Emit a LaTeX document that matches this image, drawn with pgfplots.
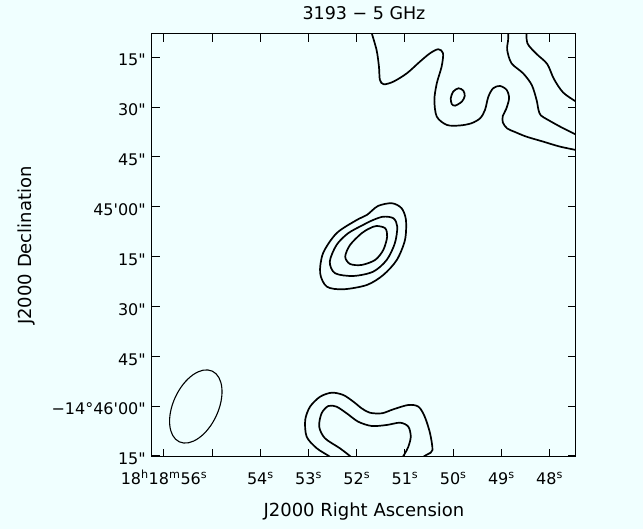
\documentclass[border=0pt]{standalone}
\usepackage{fontspec}
\setmainfont{DejaVu Sans}
\usepackage{pgfplots}
\pgfplotsset{compat=1.18}
\usetikzlibrary{shapes.geometric}
\definecolor{bgazure}{RGB}{240,255,255}
% straight prime marks (bypass the TeX quote mapping)
\newcommand\sq{\XeTeXglyph\XeTeXcharglyph"27\relax}
\newcommand\dq{\XeTeXglyph\XeTeXcharglyph"22\relax}
\newcommand\sx[1]{\textsuperscript{#1}}

\begin{document}
\begin{tikzpicture}
\fill[bgazure] (-152pt,-72pt) rectangle (491pt,457pt);
\begin{axis}[
  at={(0pt,0pt)}, anchor=south west,
  scale only axis, width=424pt, height=423pt,
  x dir=reverse,
  xmin=47.452, xmax=56.249,
  ymin=-75.3, ymax=52.0,
  axis line style={line width=1pt},
  tick style={line width=1pt, black},
  major tick length=8pt,
  tick align=inside,
  xtick={48,49,50,51,52,53,54,55,56},
  xticklabels={48\sx{s},49\sx{s},50\sx{s},51\sx{s},52\sx{s},53\sx{s},54\sx{s},{},18\sx{h}18\sx{m}56\sx{s}},
  ytick={-75,-60,-45,-30,-15,0,15,30,45},
  yticklabels={15\dq,−14°46\sq00\dq,45\dq,30\dq,15\dq,45\sq00\dq,45\dq,30\dq,15\dq},
  tick label style={font=\fontsize{16}{19}\selectfont},
  xticklabel style={anchor=base, inner sep=0pt, yshift=-28pt},
  yticklabel style={anchor=east, inner sep=0pt, xshift=-6pt, yshift=-3pt},
  title={\fontsize{17.5}{21}\selectfont 3193 − 5 GHz},
  title style={at={(axis description cs:0.5,1.0189)}, anchor=base, inner sep=0pt},
  xlabel={J2000 Right Ascension},
  xlabel style={font=\fontsize{18}{21}\selectfont, at={(axis description cs:0.5,-0.1395)}, anchor=base, inner sep=0pt},
  ylabel={J2000 Declination},
  ylabel style={font=\fontsize{18}{21}\selectfont, at={(axis description cs:-0.2837,0.5)}, anchor=base, inner sep=0pt},
  axis background/.style={fill=bgazure},
  every axis plot/.append style={black, line width=1.7pt},
]
% extended emission, north-west edge
\addplot[smooth] coordinates {
  (51.71,53.2) (51.59,47.20) (51.54,42.17) (51.52,38.17) (51.44,36.87)
  (51.24,37.66) (50.96,40.18) (50.69,43.68) (50.48,46.20) (50.31,47.41)
  (50.21,46.20) (50.24,42.17) (50.34,37.17) (50.39,32.15) (50.34,27.12)
  (50.13,24.62) (49.86,24.47) (49.62,25.14) (49.44,26.64) (49.34,29.14)
  (49.27,33.14) (49.17,35.67) (49.03,36.36) (48.89,35.16) (48.84,32.66)
  (48.90,29.44) (48.97,27.33) (48.97,25.38) (48.88,23.57) (48.72,22.52)
  (48.48,21.10) (48.13,19.60) (47.78,18.09) (47.37,16.86)
};
% small closed island
\addplot[smooth cycle] coordinates {
  (49.89,35.67) (49.79,34.95) (49.76,33.35) (49.82,31.64)
  (49.96,30.43) (50.03,30.94) (50.05,32.66) (50.00,34.65)
};
% second level, north-east
\addplot[smooth] coordinates {
  (48.86,53.2) (48.86,50.21) (48.88,47.20) (48.79,43.19) (48.55,40.18)
  (48.37,36.66) (48.27,32.15) (48.23,29.14) (48.18,27.48) (48.03,26.13)
  (47.78,24.11) (47.51,22.13) (47.37,21.10)
};
% third level, north-east
\addplot[smooth] coordinates {
  (48.48,53.2) (48.46,49.21) (48.27,45.99) (48.05,42.98) (47.91,38.47)
  (47.72,34.41) (47.45,31.64) (47.33,30.79)
};
% central source: three levels
\addplot[smooth cycle] coordinates {
  (51.27,1.06) (51.07,-0.45) (50.98,-3.97) (51.00,-9.99) (51.17,-16.01)
  (51.45,-20.52) (51.79,-23.53) (52.28,-24.83) (52.62,-24.05) (52.76,-20.01)
  (52.70,-13.99) (52.42,-7.97) (52.00,-3.97) (51.79,-2.46) (51.56,0.24)
};
\addplot[smooth cycle] coordinates {
  (51.45,-2.98) (51.24,-3.46) (51.16,-5.99) (51.21,-10.98) (51.38,-16.01)
  (51.66,-19.53) (52.07,-20.82) (52.45,-20.01) (52.56,-16.52) (52.42,-11.49)
  (52.18,-7.97) (51.87,-5.47) (51.66,-3.97)
};
\addplot[smooth cycle] coordinates {
  (51.59,-5.78) (51.41,-6.47) (51.37,-9.00) (51.45,-13.00) (51.62,-16.01)
  (51.90,-17.51) (52.14,-17.21) (52.24,-15.02) (52.14,-11.49) (51.90,-7.97)
  (51.73,-6.47)
};
% southern source: two levels
\addplot[smooth] coordinates {
  (52.54,-76.2) (52.56,-75.21) (52.83,-72.68) (53.04,-69.19) (53.07,-64.17)
  (52.97,-60.16) (52.76,-57.15) (52.52,-55.95) (52.28,-56.64) (52.07,-58.66)
  (51.90,-60.64) (51.73,-61.97) (51.48,-62.15) (51.24,-60.94) (50.93,-59.65)
  (50.72,-60.16) (50.59,-63.17) (50.48,-68.17) (50.43,-73.20) (50.52,-74.40)
  (50.61,-75.15) (50.65,-76.2)
};
\addplot[smooth] coordinates {
  (52.09,-76.2) (52.11,-75.39) (52.35,-72.68) (52.66,-69.67) (52.78,-66.18)
  (52.73,-62.15) (52.59,-59.95) (52.42,-60.16) (52.21,-62.15) (51.97,-64.68)
  (51.69,-65.97) (51.38,-65.67) (51.10,-64.98) (50.93,-66.18) (50.88,-69.19)
  (50.93,-72.20) (51.00,-74.19) (51.05,-75.39) (51.06,-76.2)
};
% restoring beam
\node[draw=black, line width=1.1pt, ellipse, inner sep=0pt,
      minimum width=45pt, minimum height=78pt, rotate=-25]
  at (axis cs:55.34,-60.10) {};
\end{axis}
\end{tikzpicture}
\end{document}
